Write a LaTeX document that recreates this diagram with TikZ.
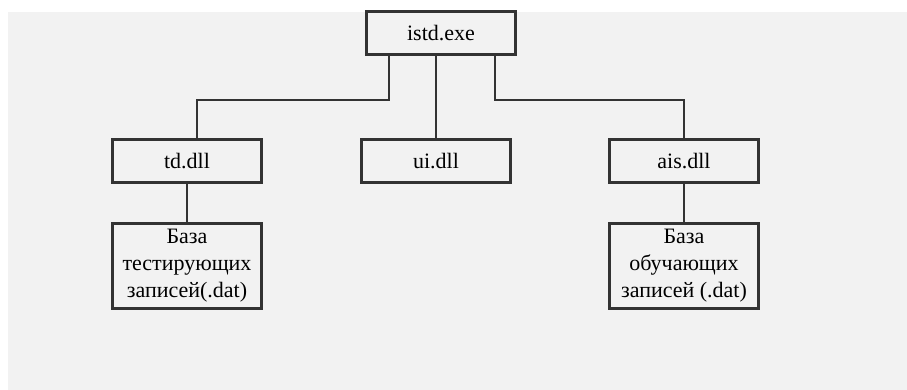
\documentclass[tikz,border=0pt]{standalone}
\usepackage{fontspec}
\setmainfont{Liberation Serif}
\usetikzlibrary{positioning}

\definecolor{bgcol}{HTML}{F2F2F2}
\definecolor{linecol}{HTML}{333333}

\begin{document}
\begin{tikzpicture}[x=1pt,y=-1pt,
    modbox/.style={draw=linecol,line width=2.2pt,fill=bgcol,
      minimum width=149pt,minimum height=43pt,inner sep=0pt,
      font=\fontsize{22}{27}\selectfont,align=center},
    link/.style={draw=linecol,line width=2pt}]
  \useasboundingbox (0,0) rectangle (907,390);
  \fill[bgcol] (8,12) rectangle (907,390);
  % modules
  \node[modbox] (exe) at (441,33) {istd.exe};
  \node[modbox] (td) at (187,161) {td.dll};
  \node[modbox] (ui) at (436,161) {ui.dll};
  \node[modbox] (ais) at (684,161) {ais.dll};
  % data files
  \node[modbox,minimum height=85pt] (tdbase) at (187,266)
    {База\\тестирующих\\записей(.dat)};
  \node[modbox,minimum height=85pt] (aisbase) at (684,266)
    {База\\обучающих\\записей (.dat)};
  % links
  \draw[link] ([xshift=-52pt]exe.south) |- ++(0,44) -| ([xshift=10pt]td.north);
  \draw[link] (exe.south -| ui.north) -- (ui.north);
  \draw[link] ([xshift=54pt]exe.south) |- ++(0,44) -| (ais.north);
  \draw[link] (td) -- (tdbase);
  \draw[link] (ais) -- (aisbase);
\end{tikzpicture}
\end{document}
